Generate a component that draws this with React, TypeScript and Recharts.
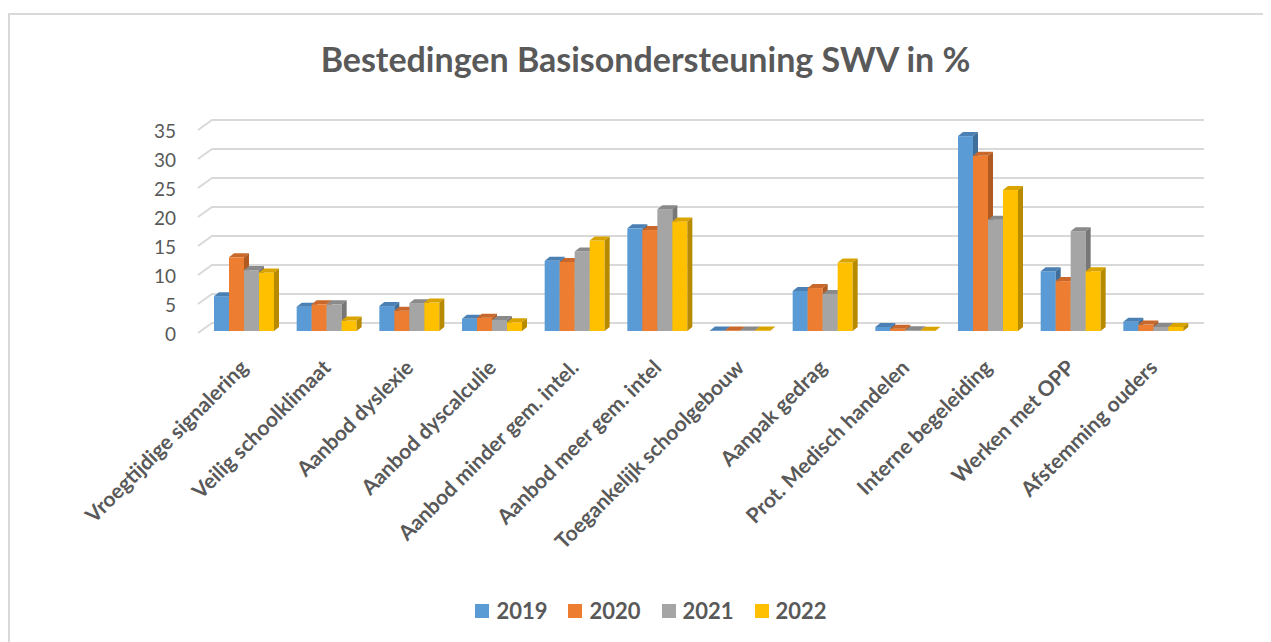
import React from 'react';
import { BarChart, Bar, XAxis, YAxis, CartesianGrid } from 'recharts';

const categories = [
  'Vroegtijdige signalering',
  'Veilig schoolklimaat',
  'Aanbod dyslexie',
  'Aanbod dyscalculie',
  'Aanbod minder gem. intel.',
  'Aanbod meer gem. intel',
  'Toegankelijk schoolgebouw',
  'Aanpak gedrag',
  'Prot. Medisch handelen',
  'Interne begeleiding',
  'Werken met OPP',
  'Afstemming ouders',
];

const years = ['2019', '2020', '2021', '2022'];
const s2019 = [6.0, 4.2, 4.3, 2.1, 12.1, 17.7, 0.1, 6.9, 0.7, 33.6, 10.3, 1.6];
const s2020 = [12.7, 4.6, 3.5, 2.3, 11.9, 17.4, 0.1, 7.4, 0.4, 30.2, 8.6, 1.1];
const s2021 = [10.5, 4.6, 4.8, 1.9, 13.7, 21.0, 0.1, 6.4, 0.15, 19.2, 17.2, 0.7];
const s2022 = [10.1, 1.8, 4.9, 1.5, 15.6, 18.9, 0.1, 11.8, 0.05, 24.3, 10.3, 0.7];
const yTicks = [0, 5, 10, 15, 20, 25, 30, 35];

const seriesValues = [s2019, s2020, s2021, s2022];
// front, top, side colours for each year
const faces = [
  ['#5B9BD5', '#4A80B4', '#3F6E9B'],
  ['#ED7D31', '#C9682A', '#AE5A21'],
  ['#A5A5A5', '#8A8A8A', '#777777'],
  ['#FFC000', '#D9A300', '#B88A00'],
];

const data = categories.map((name, i) => {
  const row: any = { name };
  years.forEach((y, k) => (row[y] = seriesValues[k][i]));
  return row;
});

const TEXT = '#595959';
const FONT = 'Lato, "Open Sans", sans-serif';

const make3D = (k: number) => (p: any) => {
  const { x, y, width, height } = p;
  const [front, top, side] = faces[k];
  const d = 5;
  const dy = 4;
  return (
    <g>
      <rect x={x} y={y} width={width} height={height} fill={front} />
      <polygon points={`${x},${y} ${x + d},${y - dy} ${x + width + d},${y - dy} ${x + width},${y}`} fill={top} />
      <polygon
        points={`${x + width},${y} ${x + width + d},${y - dy} ${x + width + d},${y + height - dy} ${x + width},${y + height}`}
        fill={side}
      />
    </g>
  );
};

const GridLine = (p: any) => (
  <polyline
    key={p.key}
    points={`${p.x1 - 5},${p.y1 + 2} ${p.x1 + 9},${p.y1 - 8} ${p.x2 + 9},${p.y1 - 8}`}
    fill="none"
    stroke="#d9d9d9"
    strokeWidth={2}
  />
);

const YTick = (p: any) => (
  <text x={p.x - 19} y={p.y + 2} textAnchor="end" dominantBaseline="central" fill={TEXT} fontSize={19} fontFamily={FONT}>
    {p.payload.value}
  </text>
);

const XTick = (p: any) => {
  const ax = p.x + 5;
  const ay = p.y + 30;
  return (
    <text x={ax} y={ay} transform={`rotate(-45, ${ax}, ${ay})`} textAnchor="end" fill={TEXT} fontSize={21} fontWeight="bold" fontFamily={FONT}>
      {p.payload.value}
    </text>
  );
};

export default function App() {
  return (
    <div style={{ position: 'relative', width: 1263, height: 634, overflow: 'hidden', fontFamily: FONT }}>
      <div
        style={{
          position: 'absolute',
          top: 5,
          left: 0,
          width: 1400,
          height: 700,
          borderTop: '2px solid #d9d9d9',
          borderLeft: '2px solid #d9d9d9',
          boxSizing: 'border-box',
        }}
      />
      <div
        style={{
          position: 'absolute',
          top: 31,
          left: 0,
          width: 1263,
          paddingLeft: 12,
          boxSizing: 'border-box',
          textAlign: 'center',
          fontSize: 34,
          lineHeight: '40px',
          fontWeight: 'bold',
          color: TEXT,
        }}
      >
        Bestedingen Basisondersteuning SWV in %
      </div>
      <div style={{ position: 'absolute', top: 0, left: 0 }}>
        <BarChart
          width={1263}
          height={634}
          data={data}
          margin={{ top: 120, right: 76, left: 135, bottom: 271 }}
          barSize={15}
          barGap={0}
        >
          <CartesianGrid vertical={false} horizontal={GridLine} />
          <XAxis dataKey="name" axisLine={false} tickLine={false} interval={0} height={40} tick={XTick} />
          <YAxis domain={[0, 35]} ticks={yTicks} axisLine={false} tickLine={false} width={60} tick={YTick} />
          {years.map((y, k) => (
            <Bar key={y} dataKey={y} fill={faces[k][0]} shape={make3D(k)} isAnimationActive={false} />
          ))}
        </BarChart>
      </div>
      <div
        style={{
          position: 'absolute',
          top: 590,
          left: 0,
          width: 1263,
          paddingLeft: 23,
          boxSizing: 'border-box',
          display: 'flex',
          justifyContent: 'center',
          gap: 21,
          fontSize: 22,
          fontWeight: 'bold',
          color: TEXT,
          lineHeight: '26px',
        }}
      >
        {years.map((y, k) => (
          <div key={y} style={{ display: 'flex', alignItems: 'center' }}>
            <span style={{ display: 'inline-block', width: 14, height: 14, background: faces[k][0], marginRight: 7 }} />
            {y}
          </div>
        ))}
      </div>
    </div>
  );
}
